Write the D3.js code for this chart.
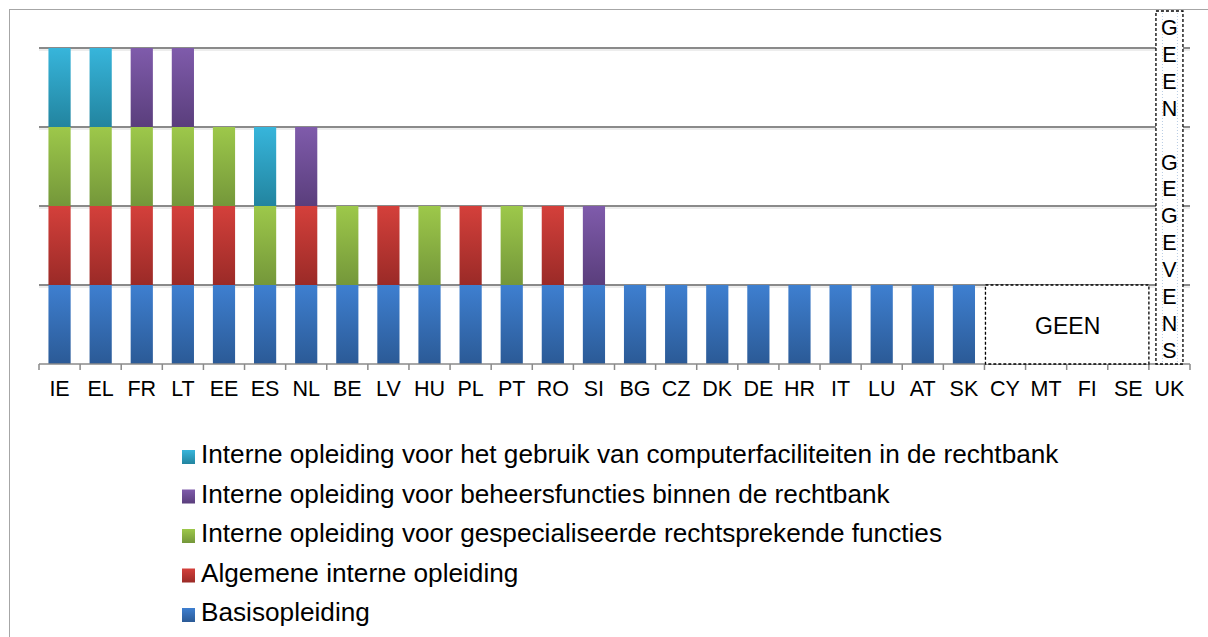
<!DOCTYPE html>
<html>
<head>
<meta charset="utf-8">
<script src="https://cdn.jsdelivr.net/npm/d3@7"></script>
<style>
  body { margin: 0; background: #fff; }
  svg { display: block; font-family: "Liberation Sans", Arial, sans-serif; }
</style>
</head>
<body>
<svg id="chart" width="1208" height="637"></svg>
<script>
// countries on the x axis
var countries = ['IE', 'EL', 'FR', 'LT', 'EE', 'ES', 'NL', 'BE', 'LV', 'HU', 'PL', 'PT', 'RO', 'SI',
                 'BG', 'CZ', 'DK', 'DE', 'HR', 'IT', 'LU', 'AT', 'SK', 'CY', 'MT', 'FI', 'SE', 'UK'];

// one value per country, series stacked bottom -> top
var basisopleiding  = [1,1,1,1,1,1,1,1,1,1,1,1,1,1,1,1,1,1,1,1,1,1,1,0,0,0,0,0];
var algemene        = [1,1,1,1,1,0,1,0,1,0,1,0,1,0,0,0,0,0,0,0,0,0,0,0,0,0,0,0];
var gespecialiseerd = [1,1,1,1,1,1,0,1,0,1,0,1,0,0,0,0,0,0,0,0,0,0,0,0,0,0,0,0];
var beheersfuncties = [0,0,1,1,0,0,1,0,0,0,0,0,0,1,0,0,0,0,0,0,0,0,0,0,0,0,0,0];
var computer        = [1,1,0,0,0,1,0,0,0,0,0,0,0,0,0,0,0,0,0,0,0,0,0,0,0,0,0,0];

var seriesNames = [
  'Basisopleiding',
  'Algemene interne opleiding',
  'Interne opleiding voor gespecialiseerde rechtsprekende functies',
  'Interne opleiding voor beheersfuncties binnen de rechtbank',
  'Interne opleiding voor het gebruik van computerfaciliteiten in de rechtbank'
];
var yTicks = [0, 1, 2, 3, 4];

// countries without answer
var geenGroup = ['CY', 'MT', 'FI', 'SE'];
var geenLabel = 'GEEN';
var ukLabel = 'GEEN GEGEVENS';

var colors = [
  ['#3e7fd0', '#2b5a96'],
  ['#d4403b', '#9a2a27'],
  ['#9dc84a', '#74973a'],
  ['#7f5bab', '#5a3e7c'],
  ['#37b5db', '#22849f']
];

var svg = d3.select('#chart');
var defs = svg.append('defs');
colors.forEach(function(c, i) {
  var g = defs.append('linearGradient')
    .attr('id', 'grad' + i)
    .attr('x1', 0).attr('y1', 0).attr('x2', 0).attr('y2', 1);
  g.append('stop').attr('offset', '0%').attr('stop-color', c[0]);
  g.append('stop').attr('offset', '100%').attr('stop-color', c[1]);
});

// outer frame
svg.append('rect')
  .attr('x', 9.5).attr('y', 9.5)
  .attr('width', 1300).attr('height', 700)
  .attr('fill', 'none')
  .attr('stroke', '#a6a6a6');

var x = d3.scaleBand()
  .domain(countries)
  .range([39, 1190])
  .paddingInner(0.46)
  .paddingOuter(0.23);
var step = x.step();
var y = d3.scaleLinear().domain([0, 4]).range([364, 48]);

function leftEdge(c) { return x(c) - step * x.paddingInner() / 2; }

// gridlines
var grid = svg.append('g');
yTicks.slice(1).forEach(function(t) {
  grid.append('line')
    .attr('x1', 39).attr('x2', 1190)
    .attr('y1', y(t) + 2).attr('y2', y(t) + 2)
    .attr('stroke', '#dcdcdc').attr('stroke-width', 1);
  grid.append('line')
    .attr('x1', 39).attr('x2', 1190)
    .attr('y1', y(t)).attr('y2', y(t))
    .attr('stroke', '#8a8a8a').attr('stroke-width', 2);
});

// stacked bars
var rows = countries.map(function(c, i) {
  return { country: c, s0: basisopleiding[i], s1: algemene[i], s2: gespecialiseerd[i],
           s3: beheersfuncties[i], s4: computer[i] };
});
var stack = d3.stack().keys(['s0', 's1', 's2', 's3', 's4'])(rows);

svg.append('g').selectAll('g')
  .data(stack)
  .join('g')
    .attr('fill', function(d, i) { return 'url(#grad' + i + ')'; })
  .selectAll('rect')
  .data(function(d) { return d.filter(function(p) { return p[1] > p[0]; }); })
  .join('rect')
    .attr('x', function(p) { return x(p.data.country); })
    .attr('width', x.bandwidth())
    .attr('y', function(p) { return y(p[1]); })
    .attr('height', function(p) { return y(p[0]) - y(p[1]); });

// x axis line and ticks
var axis = svg.append('g').attr('stroke', '#8a8a8a').attr('stroke-width', 1.5);
axis.append('line')
  .attr('x1', 39).attr('x2', 1190)
  .attr('y1', y(0)).attr('y2', y(0));
countries.concat(['end']).forEach(function(c, i) {
  var xx = i < countries.length ? leftEdge(c) : 1190;
  axis.append('line')
    .attr('x1', xx).attr('x2', xx)
    .attr('y1', y(0)).attr('y2', y(0) + 6);
});

svg.append('g').selectAll('text')
  .data(countries)
  .join('text')
    .attr('x', function(c) { return x(c) + x.bandwidth() / 2; })
    .attr('y', 396)
    .attr('text-anchor', 'middle')
    .attr('font-size', 21.5)
    .attr('fill', '#000')
    .text(function(c) { return c; });

// GEEN box over CY..SE
var gx0 = leftEdge(geenGroup[0]),
    gx1 = leftEdge('UK');
svg.append('rect')
  .attr('x', gx0 + 1).attr('y', y(1))
  .attr('width', gx1 - gx0 - 1).attr('height', y(0) - y(1))
  .attr('fill', '#fff')
  .attr('stroke', '#000').attr('stroke-width', 1.3)
  .attr('stroke-dasharray', '3,2');
svg.append('text')
  .attr('x', (gx0 + gx1) / 2 + 1)
  .attr('y', 334)
  .attr('text-anchor', 'middle')
  .attr('font-size', 23)
  .text(geenLabel);

// UK vertical box
var ukCx = x('UK') + x.bandwidth() / 2;
svg.append('rect')
  .attr('x', ukCx - 13.5).attr('y', 11)
  .attr('width', 27).attr('height', y(0) - 11)
  .attr('fill', '#fff')
  .attr('stroke', '#000').attr('stroke-width', 1.3)
  .attr('stroke-dasharray', '3,2');
[-7, 8].forEach(function(dx) {
  svg.append('line')
    .attr('x1', ukCx + dx).attr('x2', ukCx + dx)
    .attr('y1', 13).attr('y2', y(0) - 2)
    .attr('stroke', '#b8cce4').attr('stroke-width', 1)
    .attr('stroke-dasharray', '1,2');
});
svg.append('g').selectAll('text')
  .data(ukLabel.split(''))
  .join('text')
    .attr('x', ukCx)
    .attr('y', function(ch, i) { return 35 + i * 26.9; })
    .attr('text-anchor', 'middle')
    .attr('font-size', 21.5)
    .text(function(ch) { return ch; });

// legend, top entry is the last series
var legend = svg.append('g');
seriesNames.slice().reverse().forEach(function(name, k) {
  var idx = seriesNames.length - 1 - k,
      base = 463 + k * 39.5;
  legend.append('rect')
    .attr('x', 182).attr('y', base - 13)
    .attr('width', 13).attr('height', 14)
    .attr('fill', 'url(#grad' + idx + ')');
  legend.append('text')
    .attr('x', 201).attr('y', base)
    .attr('font-size', 26.2)
    .text(name);
});
</script>
</body>
</html>
